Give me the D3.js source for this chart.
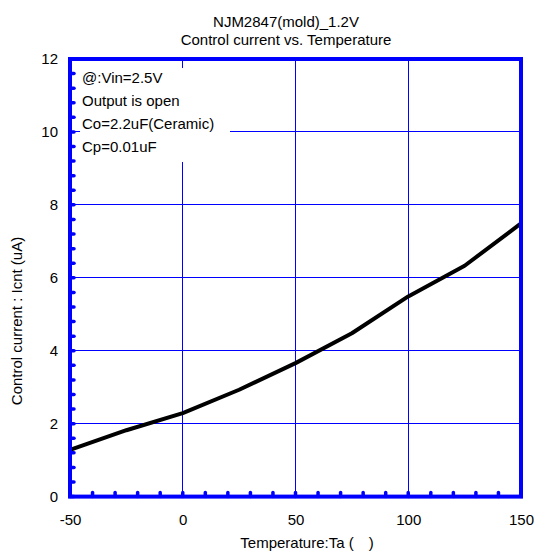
<!DOCTYPE html>
<html><head><meta charset="utf-8">
<script src="https://cdn.jsdelivr.net/npm/d3@7/dist/d3.min.js"></script>
<style>body{margin:0;background:#fff}svg{display:block;font-family:"Liberation Sans",Arial,sans-serif}</style>
</head><body><svg id="c" width="537" height="551"></svg>
<script>
const titleLines = ["NJM2847(mold)_1.2V", "Control current vs. Temperature"];
const notes = ["@:Vin=2.5V", "Output is open", "Co=2.2uF(Ceramic)", "Cp=0.01uF"];
const temps = [-50, -25, 0, 25, 50, 75, 100, 125, 150];
const icnt = [1.28, 1.82, 2.29, 2.93, 3.66, 4.48, 5.49, 6.33, 7.49];
const xTicks = [-50, 0, 50, 100, 150];
const yTicks = [0, 2, 4, 6, 8, 10, 12];
const xLabel = "Temperature:Ta (\u2003)";
const yLabel = "Control current : Icnt (uA)";

const svg = d3.select("#c");
const L = 70, R = 521, T = 59, B = 496.6;
const x = d3.scaleLinear().domain([-50, 150]).range([L, R]);
const y = d3.scaleLinear().domain([0, 12]).range([B, T]);
const blue = "#0000ff";
const FS = 15;
const crisp = v => Math.floor(v) + 0.5;

// grid
svg.append("g").selectAll("line").data(xTicks.slice(1, -1)).join("line")
  .attr("x1", d => crisp(x(d))).attr("x2", d => crisp(x(d))).attr("y1", T).attr("y2", B)
  .style("stroke", blue).attr("stroke-width", 1);
svg.append("g").selectAll("line").data(yTicks.slice(1, -1)).join("line")
  .attr("y1", d => crisp(y(d))).attr("y2", d => crisp(y(d))).attr("x1", L).attr("x2", R)
  .style("stroke", blue).attr("stroke-width", 1);

// notes box (covers grid)
svg.append("rect").attr("x", 80).attr("y", 68).attr("width", 150).attr("height", 94).attr("fill", "#fff");
svg.append("g").selectAll("text").data(notes).join("text")
  .attr("x", 82).attr("y", (d, i) => 83 + i * 23)
  .attr("font-size", FS).attr("fill", "#000").text(d => d);

// minor ticks
const xMinor = d3.range(-50, 150.1, 10);
const yMinor = d3.range(0, 12.01, 0.4);
svg.append("g").selectAll("line").data(xMinor).join("line")
  .attr("x1", d => x(d)).attr("x2", d => x(d)).attr("y1", B).attr("y2", B - 4)
  .style("stroke", blue).attr("stroke-width", 3.5).attr("stroke-linecap", "round");
svg.append("g").selectAll("line").data(yMinor).join("line")
  .attr("y1", d => y(d)).attr("y2", d => y(d)).attr("x1", L).attr("x2", L + 4)
  .style("stroke", blue).attr("stroke-width", 3.5).attr("stroke-linecap", "round");

// curve
svg.append("path").datum(temps.map((t, i) => [t, icnt[i]]))
  .attr("d", d3.line().x(d => x(d[0])).y(d => y(d[1])))
  .attr("fill", "none").attr("stroke", "#000").attr("stroke-width", 4).attr("stroke-linejoin", "round");

// frame
svg.append("rect").attr("x", L).attr("y", T).attr("width", R - L).attr("height", B - T)
  .attr("fill", "none").style("stroke", blue).attr("stroke-width", 4);

// axes labels via d3 axes
const xa = svg.append("g").attr("transform", `translate(0,${B})`)
  .call(d3.axisBottom(x).tickValues(xTicks).tickSize(0).tickPadding(18).tickFormat(d => String(d)));
const ya = svg.append("g").attr("transform", `translate(${L},0)`)
  .call(d3.axisLeft(y).tickValues(yTicks).tickSize(0).tickPadding(12).tickFormat(d => String(d)));
[xa, ya].forEach(a => {
  a.select(".domain").remove();
  a.selectAll("line").remove();
  a.selectAll("text").attr("font-size", FS).attr("fill", "#000").attr("font-family", "Liberation Sans, Arial, sans-serif");
});

// titles
svg.append("g").selectAll("text").data(titleLines).join("text")
  .attr("x", 286).attr("y", (d, i) => 27 + i * 18).attr("text-anchor", "middle")
  .attr("font-size", FS).attr("fill", "#000").text(d => d);

svg.append("text").attr("x", 307).attr("y", 548).attr("text-anchor", "middle")
  .attr("font-size", FS).attr("fill", "#000").text(xLabel);
svg.append("text").attr("transform", "translate(22,321) rotate(-90)").attr("text-anchor", "middle")
  .attr("font-size", FS).attr("fill", "#000").text(yLabel);
</script></body></html>
